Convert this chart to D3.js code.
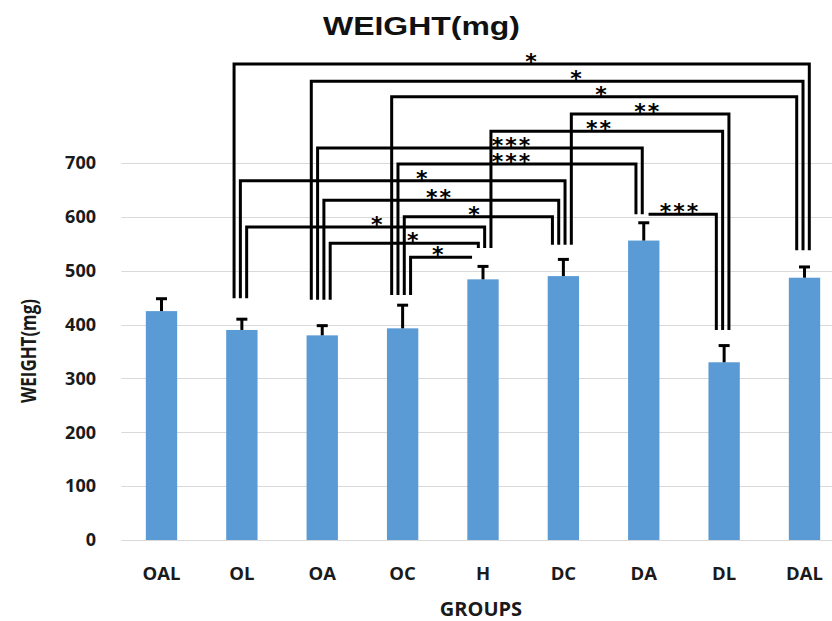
<!DOCTYPE html>
<html>
<head>
<meta charset="utf-8">
<script src="https://cdn.jsdelivr.net/npm/d3@7"></script>
<style>
  html, body { margin: 0; padding: 0; background: #fff; }
  svg { display: block; }
</style>
</head>
<body>
<svg id="chart" width="832" height="621"></svg>
<script>
// ---- data ----
const categories = ["OAL", "OL", "OA", "OC", "H", "DC", "DA", "DL", "DAL"];
const means      = [425, 390, 380, 393, 484, 490, 556, 330, 487];
const errors     = [23, 20, 18, 43, 24, 31, 33, 31, 20];
const yTicks     = [0, 100, 200, 300, 400, 500, 600, 700];
// bottom of the significance bracket legs above each group (mg)
const legBase    = [null, 449, 446, 455, 542, 548, 605, 390, 538];
// significance brackets
const bracketFrom  = ["OL", "OA", "OC", "DC", "H", "OA", "OC", "OL", "OA", "OC", "OL", "DA", "OA", "OC"];
const bracketTo    = ["DAL", "DAL", "DAL", "DL", "DL", "DA", "DA", "DC", "DC", "DC", "H", "DL", "H", "H"];
const bracketLevel = [884, 852, 823, 791, 759, 728, 698, 667, 631, 600, 581, 605, 551, 525];
const bracketLabel = ["*", "*", "*", "**", "**", "***", "***", "*", "**", "*", "*", "***", "*", "*"];
// label position along the category axis (fractional group index)
const labelAt      = [4.61, 5.17, 5.48, 6.05, 5.45, 4.36, 4.36, 3.25, 3.46, 3.90, 2.69, 6.45, 3.14, 3.45];

const titleText = "WEIGHT(mg)";
const yTitle = "WEIGHT(mg)";
const xTitle = "GROUPS";

// ---- layout ----
const svg = d3.select("#chart");
const plotLeft = 121.3, plotRight = 844.7;
const x = d3.scaleBand().domain(categories).range([plotLeft, plotRight])
  .paddingInner(0.61).paddingOuter(0.305);
const y = d3.scaleLinear().domain([0, 700]).range([540, 163]);
const cx = c => x(c) + x.bandwidth() / 2;
const idxX = d3.scaleLinear().domain([0, categories.length - 1])
  .range([cx(categories[0]), cx(categories[categories.length - 1])]);

const labelFont = "'Open Sans', 'DejaVu Sans', sans-serif";

// gridlines
svg.append("g").selectAll("line").data(yTicks).join("line")
  .attr("x1", plotLeft).attr("x2", 832)
  .attr("y1", d => Math.round(y(d)) + 0.5).attr("y2", d => Math.round(y(d)) + 0.5)
  .attr("stroke", "#d9d9d9").attr("stroke-width", 1.2);

// y tick labels
svg.append("g").selectAll("text").data(yTicks).join("text")
  .attr("x", 96).attr("y", d => y(d) + 6.3)
  .attr("text-anchor", "end")
  .attr("font-family", labelFont).attr("font-weight", 700).attr("font-size", 18)
  .attr("fill", "#1a1a1a")
  .text(d => d);

// bars
const rows = categories.map((c, i) => ({ c, m: means[i], e: errors[i], base: legBase[i] }));
svg.append("g").selectAll("rect").data(rows).join("rect")
  .attr("x", d => x(d.c)).attr("width", x.bandwidth())
  .attr("y", d => y(d.m)).attr("height", d => y(0) - y(d.m))
  .attr("fill", "#5b9bd5");

// error bars (upper)
const eg = svg.append("g").attr("stroke", "#000").attr("stroke-width", 3);
eg.selectAll("line.v").data(rows).join("line").attr("class", "v")
  .attr("x1", d => cx(d.c)).attr("x2", d => cx(d.c))
  .attr("y1", d => y(d.m)).attr("y2", d => y(d.m + d.e));
eg.selectAll("line.h").data(rows).join("line").attr("class", "h")
  .attr("x1", d => cx(d.c) - 5.5).attr("x2", d => cx(d.c) + 5.5)
  .attr("y1", d => y(d.m + d.e)).attr("y2", d => y(d.m + d.e));

// brackets
const brackets = bracketFrom.map((f, i) => ({
  from: f, to: bracketTo[i], level: bracketLevel[i], label: bracketLabel[i], at: labelAt[i], i
}));
// leg slot positions per category
const legX = {};
const spacing = 6.3;
categories.forEach(c => {
  const ends = brackets.filter(b => b.to === c).sort((a, b) => a.level - b.level);
  const starts = brackets.filter(b => b.from === c).sort((a, b) => b.level - a.level);
  const slots = ends.map(b => ({ b, side: "to" })).concat(starts.map(b => ({ b, side: "from" })));
  const n = slots.length;
  slots.forEach((s, k) => {
    legX[s.b.i + "_" + s.side] = cx(c) - 1.5 + (k - (n - 1) / 2) * spacing;
  });
});
const baseOf = c => legBase[categories.indexOf(c)];

const bg = svg.append("g");
bg.selectAll("path").data(brackets).join("path")
  .attr("fill", "none").attr("stroke", "#000").attr("stroke-width", 3)
  .attr("stroke-linejoin", "miter")
  .attr("d", b => {
    const ly = y(b.level);
    const x1 = legX[b.i + "_from"], x2 = legX[b.i + "_to"];
    const yb1 = y(baseOf(b.from)), yb2 = y(baseOf(b.to));
    const p = d3.path();
    if (yb1 > ly + 2) { p.moveTo(x1, yb1); p.lineTo(x1, ly); } else { p.moveTo(x1, ly); }
    p.lineTo(x2, ly);
    if (yb2 > ly + 2) p.lineTo(x2, yb2);
    return p.toString();
  });

bg.selectAll("text").data(brackets).join("text")
  .attr("x", b => idxX(b.at))
  .attr("y", b => y(b.level) + 5)
  .attr("text-anchor", "middle")
  .attr("font-family", "'DejaVu Sans', sans-serif").attr("font-weight", 700)
  .attr("font-size", 22).attr("letter-spacing", 2)
  .attr("fill", "#000")
  .text(b => b.label);

// x labels
svg.append("g").selectAll("text").data(categories).join("text")
  .attr("x", d => cx(d)).attr("y", 580)
  .attr("text-anchor", "middle")
  .attr("font-family", labelFont).attr("font-weight", 700).attr("font-size", 18.5)
  .attr("fill", "#1a1a1a")
  .text(d => d);

// titles
svg.append("text")
  .attr("x", 421.5).attr("y", 35)
  .attr("text-anchor", "middle")
  .attr("font-family", "'Liberation Sans', Arial, sans-serif").attr("font-weight", 700)
  .attr("font-size", 25)
  .attr("textLength", 197).attr("lengthAdjust", "spacingAndGlyphs")
  .attr("fill", "#111")
  .text(titleText);

svg.append("text")
  .attr("transform", "translate(36,351) rotate(-90)")
  .attr("text-anchor", "middle")
  .attr("font-family", labelFont).attr("font-weight", 700).attr("font-size", 22)
  .attr("textLength", 104).attr("lengthAdjust", "spacingAndGlyphs")
  .attr("fill", "#1a1a1a")
  .text(yTitle);

svg.append("text")
  .attr("x", 481).attr("y", 616)
  .attr("text-anchor", "middle")
  .attr("font-family", labelFont).attr("font-weight", 700).attr("font-size", 20)
  .attr("fill", "#1a1a1a")
  .text(xTitle);
</script>
</body>
</html>
